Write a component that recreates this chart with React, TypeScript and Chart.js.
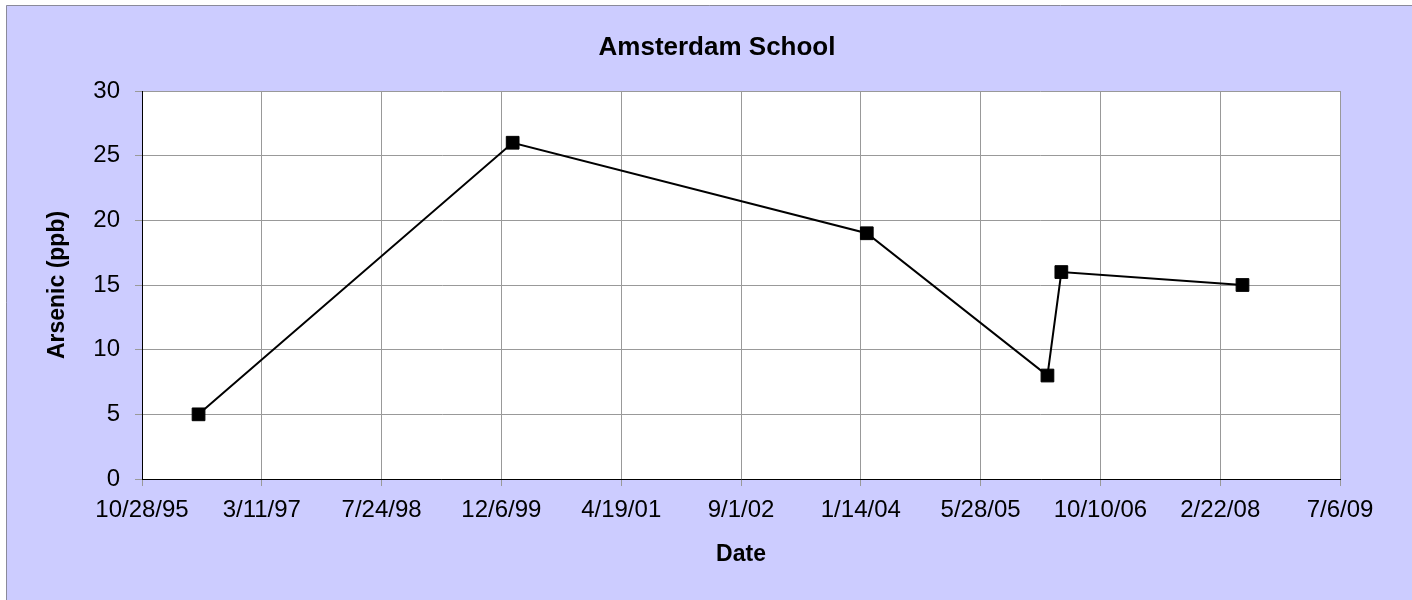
import { useEffect, useRef } from "react";
import { Chart, registerables } from "chart.js";

Chart.register(...registerables);

const chartTitle = "Amsterdam School";
const xAxisTitle = "Date";
const yAxisTitle = "Arsenic (ppb)";

const sampleDates = ["6/20/96", "1/22/00", "2/8/04", "3/3/06", "4/30/06", "5/25/08"];
const arsenicPpb = [5, 26, 19, 8, 16, 15];

// x axis: Excel date serials (10/28/95 .. 7/6/09, every 500 days)
const xTickMin = 35000;
const xTickMax = 40000;
const xTickStep = 500;
const yTickMin = 0;
const yTickMax = 30;
const yTickStep = 5;

const EXCEL_EPOCH = Date.UTC(1899, 11, 30);
const DAY = 86400000;

function toSerial(s: string): number {
  const [m, d, yy] = s.split("/").map(Number);
  const y = yy < 50 ? 2000 + yy : 1900 + yy;
  return Math.round((Date.UTC(y, m - 1, d) - EXCEL_EPOCH) / DAY);
}

function serialToLabel(v: number): string {
  const dt = new Date(EXCEL_EPOCH + Math.round(v) * DAY);
  const yy = String(dt.getUTCFullYear() % 100).padStart(2, "0");
  return `${dt.getUTCMonth() + 1}/${dt.getUTCDate()}/${yy}`;
}

const FONT = "'Liberation Sans', Arial, sans-serif";
const BG = "#CCCCFF";
const GRID = "#999999";

const backgroundPlugin = {
  id: "excelBackground",
  beforeDraw(chart: any) {
    const { ctx, chartArea } = chart;
    ctx.save();
    ctx.fillStyle = BG;
    ctx.fillRect(6, 5, chart.width - 6, chart.height - 5);
    ctx.strokeStyle = "#8a8a9a";
    ctx.lineWidth = 1;
    ctx.beginPath();
    ctx.moveTo(6.5, chart.height);
    ctx.lineTo(6.5, 5.5);
    ctx.lineTo(chart.width, 5.5);
    ctx.stroke();
    ctx.fillStyle = "#FFFFFF";
    ctx.fillRect(chartArea.left, chartArea.top, chartArea.right - chartArea.left, chartArea.bottom - chartArea.top);
    ctx.restore();
  },
};

export default function App() {
  const ref = useRef<HTMLCanvasElement>(null);

  useEffect(() => {
    if (!ref.current) return;
    const points = sampleDates.map((d, i) => ({ x: toSerial(d), y: arsenicPpb[i] }));
    const chart = new Chart(ref.current, {
      type: "line",
      data: {
        datasets: [
          {
            label: "Arsenic",
            data: points,
            borderColor: "#000000",
            backgroundColor: "#000000",
            borderWidth: 2,
            pointStyle: "rect",
            pointRadius: 9,
            pointHoverRadius: 9,
            pointBorderWidth: 1,
            pointBorderColor: "#000000",
            pointBackgroundColor: "#000000",
            tension: 0,
          },
        ],
      },
      options: {
        responsive: false,
        animation: false,
        layout: { padding: { left: 22, right: 0, top: 0, bottom: 0 } },
        plugins: {
          legend: { display: false },
          tooltip: { enabled: false },
          title: {
            display: true,
            text: chartTitle,
            color: "#000000",
            font: { family: FONT, size: 26, weight: "bold" },
            padding: { top: 32, bottom: 27.8 },
          },
        },
        scales: {
          x: {
            type: "linear",
            min: xTickMin,
            max: xTickMax,
            afterFit: (s: any) => {
              s.height = 121;
            },
            ticks: {
              stepSize: xTickStep,
              color: "#000000",
              font: { family: FONT, size: 24 },
              padding: 10,
              maxRotation: 0,
              autoSkip: false,
              callback: (v: any) => serialToLabel(Number(v)),
            },
            grid: { color: GRID, tickColor: GRID, tickLength: 7, lineWidth: 1 },
            border: { color: "#000000", width: 1 },
            title: {
              display: true,
              text: xAxisTitle,
              color: "#000000",
              font: { family: FONT, size: 23, weight: "bold" },
              padding: { top: 0, bottom: 32 },
            },
          },
          y: {
            type: "linear",
            position: "left",
            min: yTickMin,
            max: yTickMax,
            afterFit: (s: any) => {
              s.width = 120;
            },
            ticks: {
              stepSize: yTickStep,
              color: "#000000",
              font: { family: FONT, size: 24 },
              padding: 15,
            },
            grid: { color: GRID, tickColor: GRID, tickLength: 7, lineWidth: 1 },
            border: { color: "#000000", width: 1 },
            title: {
              display: true,
              text: yAxisTitle,
              color: "#000000",
              font: { family: FONT, size: 23, weight: "bold" },
              padding: { top: 22, bottom: 0 },
            },
          },
          yRight: {
            type: "linear",
            position: "right",
            display: true,
            afterFit: (s: any) => {
              s.width = 72;
            },
            ticks: { display: false },
            grid: { display: false, drawTicks: false },
            border: { display: false },
          },
        },
      },
      plugins: [backgroundPlugin],
    });
    return () => chart.destroy();
  }, []);

  return (
    <div style={{ position: "fixed", left: 0, top: 0, width: 1412, height: 600 }}>
      <canvas ref={ref} width={1412} height={600} style={{ display: "block", width: 1412, height: 600 }} />
    </div>
  );
}
